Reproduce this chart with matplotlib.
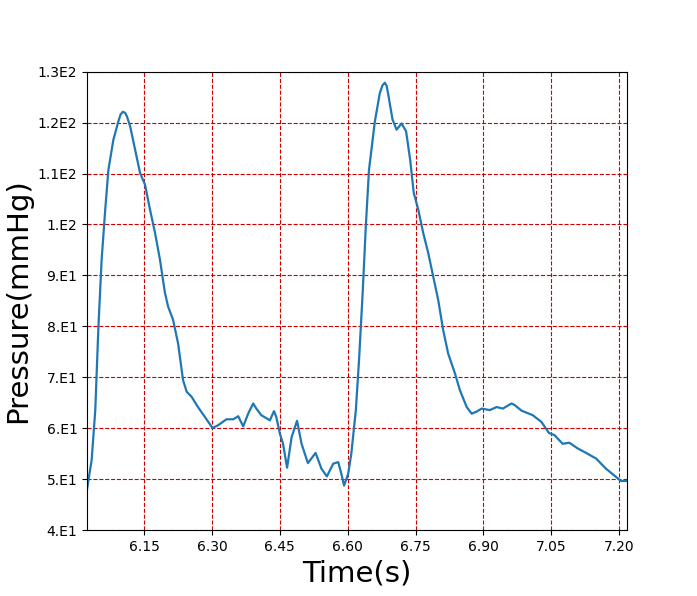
import matplotlib
matplotlib.use('Agg')
import matplotlib.pyplot as plt

# pressure trace
time_s = [6.024, 6.034, 6.042, 6.049, 6.056, 6.064, 6.071, 6.082, 6.093, 6.098, 6.103,
          6.108, 6.112, 6.119, 6.130, 6.141, 6.152, 6.163, 6.174, 6.185, 6.196, 6.203,
          6.214, 6.225, 6.236, 6.244, 6.255, 6.269, 6.284, 6.301, 6.313, 6.332,
          6.347, 6.358, 6.369, 6.380, 6.391, 6.398, 6.409, 6.428, 6.437, 6.442,
          6.450, 6.457, 6.466, 6.476, 6.488, 6.498, 6.512, 6.529, 6.542, 6.554,
          6.568, 6.579, 6.586, 6.592, 6.601, 6.608, 6.618, 6.625, 6.633, 6.640,
          6.647, 6.660, 6.671, 6.677, 6.682, 6.686, 6.689, 6.699, 6.708, 6.719, 6.729, 6.738,
          6.746, 6.756, 6.767, 6.778, 6.789, 6.800, 6.811, 6.822, 6.837, 6.848,
          6.863, 6.874, 6.885, 6.896, 6.914, 6.929, 6.943, 6.962, 6.969, 6.984,
          7.009, 7.028, 7.045, 7.057, 7.075, 7.090, 7.108, 7.127, 7.149, 7.171,
          7.189, 7.204, 7.218]
pressure = [48.2, 53.8, 63.6, 80.0, 93.0, 102.9, 110.7, 116.6, 120.2, 121.6, 122.1,
            121.9, 121.2, 119.3, 114.7, 110.1, 107.8, 102.9, 98.4, 93.1, 86.6, 83.9,
            81.3, 76.7, 69.5, 67.2, 66.2, 64.2, 62.3, 60.1, 60.6, 61.8,
            61.8, 62.4, 60.4, 62.9, 64.9, 63.9, 62.6, 61.6, 63.4, 62.3,
            59.0, 57.0, 52.3, 58.3, 61.5, 57.0, 53.2, 55.2, 52.1, 50.6,
            53.1, 53.4, 51.1, 48.8, 51.1, 55.1, 63.6, 73.4, 86.5, 99.6,
            110.7, 120.2, 125.8, 127.3, 127.8, 127.2, 125.8, 120.6, 118.6, 119.8, 118.3, 112.7,
            106.2, 102.9, 98.3, 94.4, 89.8, 85.2, 79.3, 74.7, 70.8, 67.5,
            64.2, 62.9, 63.3, 63.9, 63.6, 64.2, 63.9, 64.9, 64.6, 63.5,
            62.6, 61.3, 59.1, 58.7, 57.0, 57.2, 56.1, 55.2, 54.1, 52.1,
            50.8, 49.7, 49.7]

x_ticks = [6.15, 6.30, 6.45, 6.60, 6.75, 6.90, 7.05, 7.20]
x_labels = ['6.15', '6.30', '6.45', '6.60', '6.75', '6.90', '7.05', '7.20']
y_ticks = [40, 50, 60, 70, 80, 90, 100, 110, 120, 130]
y_labels = ['4.E1', '5.E1', '6.E1', '7.E1', '8.E1', '9.E1',
            '1.E2', '1.1E2', '1.2E2', '1.3E2']

fig = plt.figure(figsize=(6.97, 5.96), dpi=100)
ax = fig.add_subplot(111)
ax.plot(time_s, pressure, color='#1f77b4', linewidth=1.6)

ax.set_xlim(time_s[0], time_s[-1])
ax.set_ylim(40, 130)
ax.set_xticks(x_ticks)
ax.set_xticklabels(x_labels)
ax.set_yticks(y_ticks)
ax.set_yticklabels(y_labels)
ax.grid(True, color='#cc0000', linestyle='--', linewidth=0.8)

ax.set_xlabel('Time(s)', fontsize=21)
ax.set_ylabel('Pressure(mmHg)', fontsize=21)

fig.savefig('out.png', dpi=100)
